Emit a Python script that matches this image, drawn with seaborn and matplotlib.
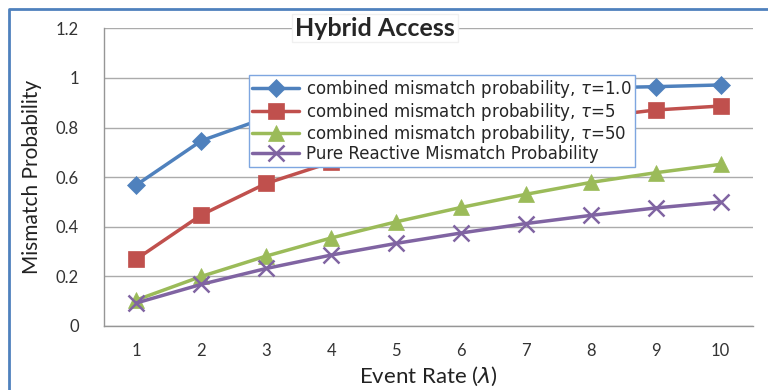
import numpy as np
import pandas as pd
import seaborn as sns
import matplotlib.pyplot as plt
from matplotlib.lines import Line2D

# data
event_rate = [1, 2, 3, 4, 5, 6, 7, 8, 9, 10]
tau_1 = [0.569, 0.747, 0.84, 0.89, 0.92, 0.94, 0.953, 0.96, 0.965, 0.972]
tau_5 = [0.27, 0.448, 0.575, 0.66, 0.72, 0.77, 0.81, 0.84, 0.871, 0.887]
tau_50 = [0.105, 0.20, 0.282, 0.355, 0.42, 0.478, 0.531, 0.579, 0.618, 0.652]
pure_reactive = [0.093, 0.168, 0.232, 0.286, 0.333, 0.375, 0.413, 0.446, 0.476, 0.50]

series_names = ["combined mismatch probability, $\\tau$=1.0",
                "combined mismatch probability, $\\tau$=5",
                "combined mismatch probability, $\\tau$=50",
                "Pure Reactive Mismatch Probability"]
y_ticks = [0, 0.2, 0.4, 0.6, 0.8, 1.0, 1.2]
y_ticklabels = ["0", "0.2", "0.4", "0.6", "0.8", "1", "1.2"]

colors = ["#4F81BD", "#C0504D", "#9BBB59", "#8064A2"]
markers = ["D", "s", "^", "x"]
msizes = [9, 11, 11, 11]

sns.set_style("white")
plt.rcParams['font.family'] = ['Lato', 'DejaVu Sans']
plt.rcParams['mathtext.fontset'] = 'dejavusans'

fig = plt.figure(figsize=(7.68, 3.9), dpi=100)
ax = fig.add_axes([104/768, 1-326/390, (753-104)/768, (326-28.4)/390])

for name, vals, c, m, ms in zip(series_names, [tau_1, tau_5, tau_50, pure_reactive], colors, markers, msizes):
    df = pd.DataFrame({"x": event_rate, "y": vals})
    sns.lineplot(data=df, x="x", y="y", ax=ax, color=c, lw=2.5, marker=m,
                 markersize=ms, markeredgecolor=c, markeredgewidth=1.8 if m == "x" else 0.5,
                 label=name, zorder=3)

ax.set_xlim(0.5, 10.5)
ax.set_ylim(0, 1.2)
ax.set_yticks(y_ticks)
ax.set_yticklabels(y_ticklabels, fontsize=12, color="#333333")
ax.set_xticks(event_rate)
ax.set_xticklabels([str(v) for v in event_rate], fontsize=12, color="#333333")
ax.set_xticks(np.arange(0.5, 11, 1), minor=True)
ax.tick_params(axis="x", which="major", length=0, pad=12)
ax.tick_params(axis="x", which="minor", length=5, color="#868686", direction="out")
ax.tick_params(axis="y", which="major", length=6, color="#868686", direction="out", pad=12)
ax.grid(axis="y", color="#ABABAB", lw=1)
ax.set_axisbelow(True)
for s in ["top", "right"]:
    ax.spines[s].set_visible(False)
for s in ["left", "bottom"]:
    ax.spines[s].set_color("#969696")
    ax.spines[s].set_linewidth(1)

ax.set_xlabel("Event Rate ($\\lambda$)", fontsize=16, color="#222222", labelpad=4)
ax.set_ylabel("Mismatch Probability", fontsize=15, color="#222222", labelpad=10)

leg = ax.legend(loc="upper left", bbox_to_anchor=(249/768, 1-75/390),
                bbox_transform=fig.transFigure, frameon=True,
                fancybox=False, borderaxespad=0, handlelength=2.8,
                labelspacing=0.02, borderpad=0.2, handletextpad=0.4,
                prop={'family': 'DejaVu Sans', 'size': 12})
leg.get_frame().set_edgecolor("#7EA6E0")
leg.get_frame().set_linewidth(1)
leg.get_frame().set_alpha(1)

fig.text(375/768, 1-28/390, "Hybrid Access", fontsize=18, fontweight="bold",
         ha="center", va="center",
         bbox=dict(facecolor="white", edgecolor="#F0F0F0", pad=2))

# outer frame (left and top edges visible)
fig.add_artist(Line2D([9/768, 9/768, 1], [0, 1-9/390, 1-9/390],
                      transform=fig.transFigure, color="#4F81BD", lw=2))

fig.savefig("out.png", dpi=100)
